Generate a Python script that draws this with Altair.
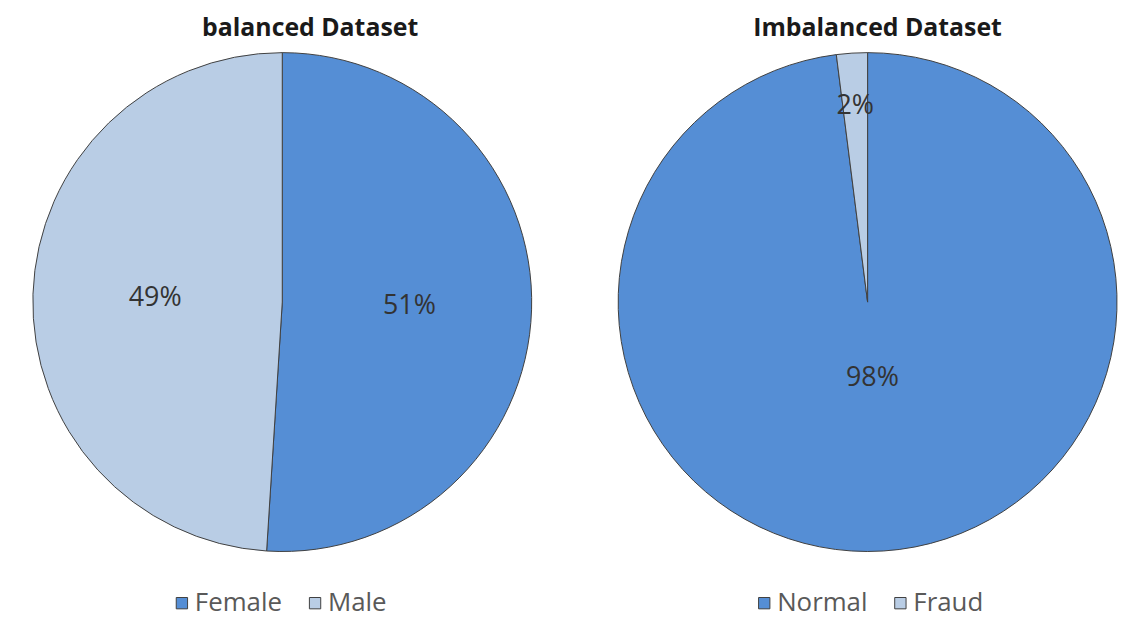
import altair as alt
import pandas as pd

left_cats = ["Female", "Male"]
left_vals = [51, 49]
right_cats = ["Normal", "Fraud"]
right_vals = [98, 2]
titles = ["balanced  Dataset", "Imbalanced  Dataset"]

BLUE = "#558ED5"
LIGHT = "#B9CDE5"
EDGE = "#3F3F3F"
FONT = "Open Sans"


def pie(cats, vals, title, title_dx, title_dy, leg_x, small_r, big_r, w, h):
    df = pd.DataFrame({"cat": cats, "val": vals, "idx": list(range(len(cats)))})
    df["label"] = df["val"].astype(str) + "%"
    base = alt.Chart(df).encode(
        theta=alt.Theta("val:Q", stack=True),
        order=alt.Order("idx:O"),
    )
    arc = base.mark_arc(radius=251, stroke=EDGE, strokeWidth=1).encode(
        color=alt.Color(
            "cat:N",
            scale=alt.Scale(domain=cats, range=[BLUE, LIGHT]),
            legend=alt.Legend(
                title=None,
                orient="none",
                legendX=leg_x,
                legendY=545,
                direction="horizontal",
                symbolType="square",
                symbolSize=130,
                symbolStrokeColor=EDGE,
                symbolStrokeWidth=1,
                labelFont=FONT,
                labelFontSize=26,
                labelColor="#595959",
                labelOffset=0,
                columnPadding=20,
            ),
        )
    )
    text = base.mark_text(
        font=FONT, fontSize=27, color="#333333",
        radius=alt.expr(f"datum.val < 5 ? {small_r} : {big_r}"),
    ).encode(text="label:N")
    return (arc + text).properties(
        width=w,
        height=h,
        title=alt.TitleParams(
            title, font=FONT, fontSize=25, fontWeight="bold", color="#1a1a1a",
            dx=title_dx, dy=title_dy, offset=8,
        ),
    )


left = pie(left_cats, left_vals, titles[0], 28, 0, 162, 198, 128, 552, 510)
right = pie(right_cats, right_vals, titles[1], 10, 0, 137, 198, 77, 508, 510)

chart = (
    alt.hconcat(left, right, spacing=59)
    .resolve_scale(color="independent")
    .properties(padding={"top": 6, "left": 0, "right": 0, "bottom": 0})
    .configure_view(stroke=None)
)

chart.save("out.html", embed_options={"renderer": "svg", "actions": False})
